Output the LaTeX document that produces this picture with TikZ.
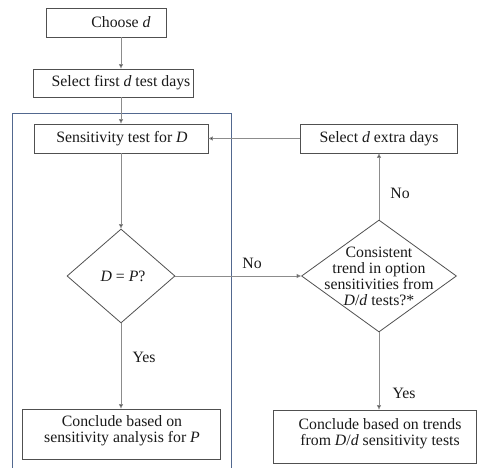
\documentclass[tikz,border=0pt]{standalone}
\usepackage{fontspec}
\setmainfont{Liberation Serif}
\usetikzlibrary{shapes.geometric,arrows.meta}
\definecolor{boxgray}{HTML}{505050}
\definecolor{conngray}{HTML}{8C8C8C}
\definecolor{frameblue}{HTML}{52688F}
\begin{document}
\begin{tikzpicture}[x=1pt,y=-1pt,
  every node/.style={font=\fontsize{15.8}{16}\selectfont, text=black!90},
  box/.style={draw=boxgray, line width=0.8pt, inner sep=0pt},
  dia/.style={draw=boxgray, line width=0.8pt, diamond, inner sep=0pt},
  conn/.style={draw=conngray, line width=0.8pt, -{Triangle[length=4.5pt,width=4pt,fill=black!80]}},
  lbl/.style={inner sep=0pt, align=center}]
\useasboundingbox (0,0) rectangle (477,468);

% loop frame around the D test
\draw[frameblue, line width=0.9pt] (12,470) -- (12,113) -- (231,113) -- (231,470);

% process boxes
\node[box, minimum width=120pt, minimum height=29pt] (choose) at (106,22.5) {};
\node[box, minimum width=160pt, minimum height=28pt] (first) at (113,83) {};
\node[box, minimum width=174pt, minimum height=29pt] (sens) at (121,138.5) {};
\node[box, minimum width=157pt, minimum height=29pt] (extra) at (378.5,138.5) {};
\node[box, minimum width=198pt, minimum height=50pt] (concP) at (121,434) {};
\node[box, minimum width=203pt, minimum height=53pt] (concT) at (375,436.5) {};

% box texts
\node[lbl] (chooset) at (121,22.5) {Choose \textit{d}};
\node[lbl] (firstt) at (121,83) {Select first \textit{d} test days};
\node[lbl] (senst) at (122,138.5) {Sensitivity test for \textit{D}};
\node[lbl] (extrat) at (379,138.5) {Select \textit{d} extra days};
\node[lbl] (concPt) at (122,431) {Conclude based on\\sensitivity analysis for \textit{P}};
\node[lbl] (concTt) at (380,434) {Conclude based on trends\\from \textit{D}/\textit{d} sensitivity tests};

% decisions
\node[dia, minimum width=108pt, minimum height=94pt] (eq) at (121,276) {};
\node[lbl] (eqt) at (123,276) {\textit{D} = \textit{P}?};
\node[dia, minimum width=155pt, minimum height=112pt] (trend) at (379,276) {};
\node[lbl] (trendt) at (379,276) {Consistent\\trend in option\\sensitivities from\\\textit{D}/\textit{d} tests?*};

% connectors
\draw[conn] (choose.south -| sens.center) -- (first.north -| sens.center);
\draw[conn] (first.south -| sens.center) -- (sens.north);
\draw[conn] (sens.south) -- (eq.north);
\draw[conn] (eq.south) -- (concP.north);
\draw[conn] (eq.east) -- (trend.west);
\draw[conn] (trend.north) -- (extra.south -| trend.north);
\draw[conn] (extra.west) -- (sens.east);
\draw[conn] (trend.south) -- (concT.north -| trend.south);

% branch labels
\node[lbl] (noh) at (252,263) {No};
\node[lbl] (nov) at (400,193) {No};
\node[lbl] (yesl) at (144,357) {Yes};
\node[lbl] (yesr) at (404,393) {Yes};
\end{tikzpicture}
\end{document}
